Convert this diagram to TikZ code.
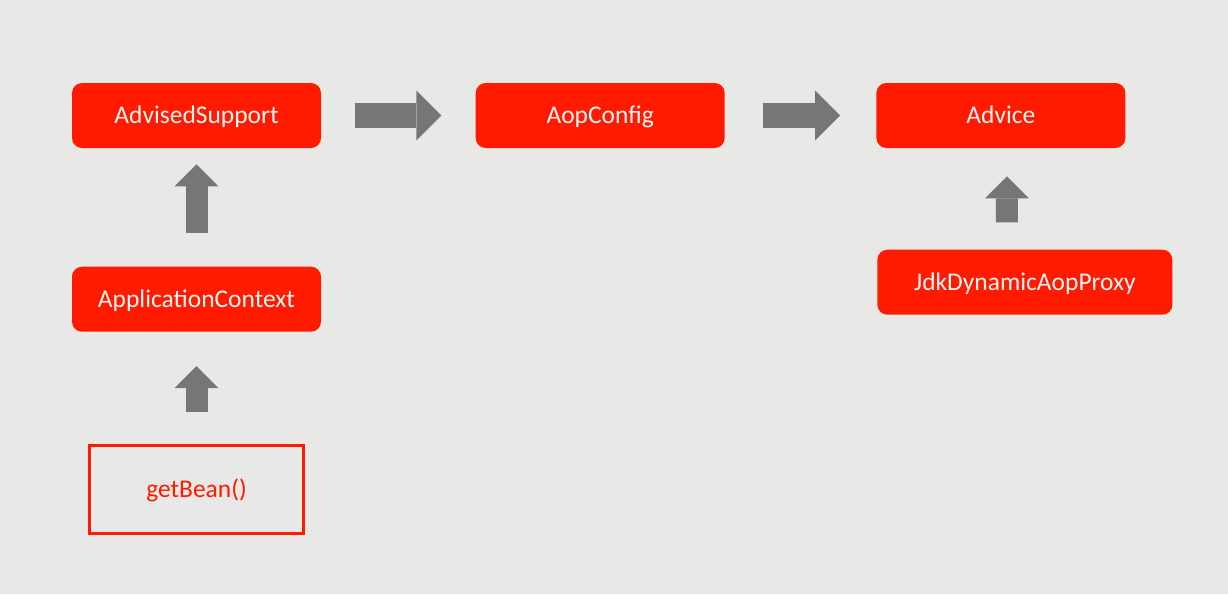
\documentclass[tikz,border=0pt]{standalone}
\usepackage{fontspec}
\setmainfont{Carlito}
\usetikzlibrary{arrows.meta,positioning}
\definecolor{slideRed}{RGB}{255,26,0}
\definecolor{slideGray}{RGB}{118,118,118}
\definecolor{slideBg}{RGB}{232,232,230}
\definecolor{slideWhite}{RGB}{250,246,244}
\tikzset{
  redbox/.style={fill=slideRed,text=slideWhite,rounded corners=0.2cm,minimum width=4.98cm,minimum height=1.3cm,text height=0.38cm,text depth=0.05cm,font=\fontsize{14.5}{16}\selectfont},
  callbox/.style={draw=slideRed,line width=0.06cm,text=slideRed,minimum width=4.28cm,minimum height=1.76cm,text height=0.38cm,text depth=0.05cm,font=\fontsize{14.5}{16}\selectfont},
  fatright/.style={draw=slideGray,line width=0.5cm,-{Triangle[length=0.5cm,width=1.0cm,line width=0pt]}},
  fatup/.style={draw=slideGray,line width=0.44cm,-{Triangle[length=0.44cm,width=0.88cm,line width=0pt]}}
}
\begin{document}
\begin{tikzpicture}[node distance=1.0cm]
\fill[slideBg] (0,0) rectangle (24.56,-11.88);
\useasboundingbox (0,0) rectangle (24.56,-11.88);
\node[redbox] (adv) at (3.93,-2.31) {AdvisedSupport};
\node[redbox,right=3.08cm of adv] (aop) {AopConfig};
\node[redbox,right=3.02cm of aop] (advice) {Advice};
\node[redbox,minimum width=5.9cm,below right=2.02cm and 0.02cm of advice.south west] (jdk) {JdkDynamicAopProxy};
\node[redbox,below=2.36cm of adv] (appctx) {ApplicationContext};
\node[callbox,below=2.24cm of appctx] (getbean) {getBean()};
\draw[fatright,shorten <=0.68cm,shorten >=0.68cm] (adv) -- (aop);
\draw[fatright,shorten <=0.76cm,shorten >=0.72cm] (aop) -- (advice);
\draw[fatup,shorten <=0.66cm,shorten >=0.32cm] (appctx) -- (adv);
\draw[fatup,shorten <=0.64cm,shorten >=0.68cm] (getbean) -- (appctx);
\draw[fatup,shorten <=0.54cm,shorten >=0.56cm] ([xshift=-0.36cm]jdk.north) -- ([xshift=0.12cm]advice.south);
\end{tikzpicture}
\end{document}
